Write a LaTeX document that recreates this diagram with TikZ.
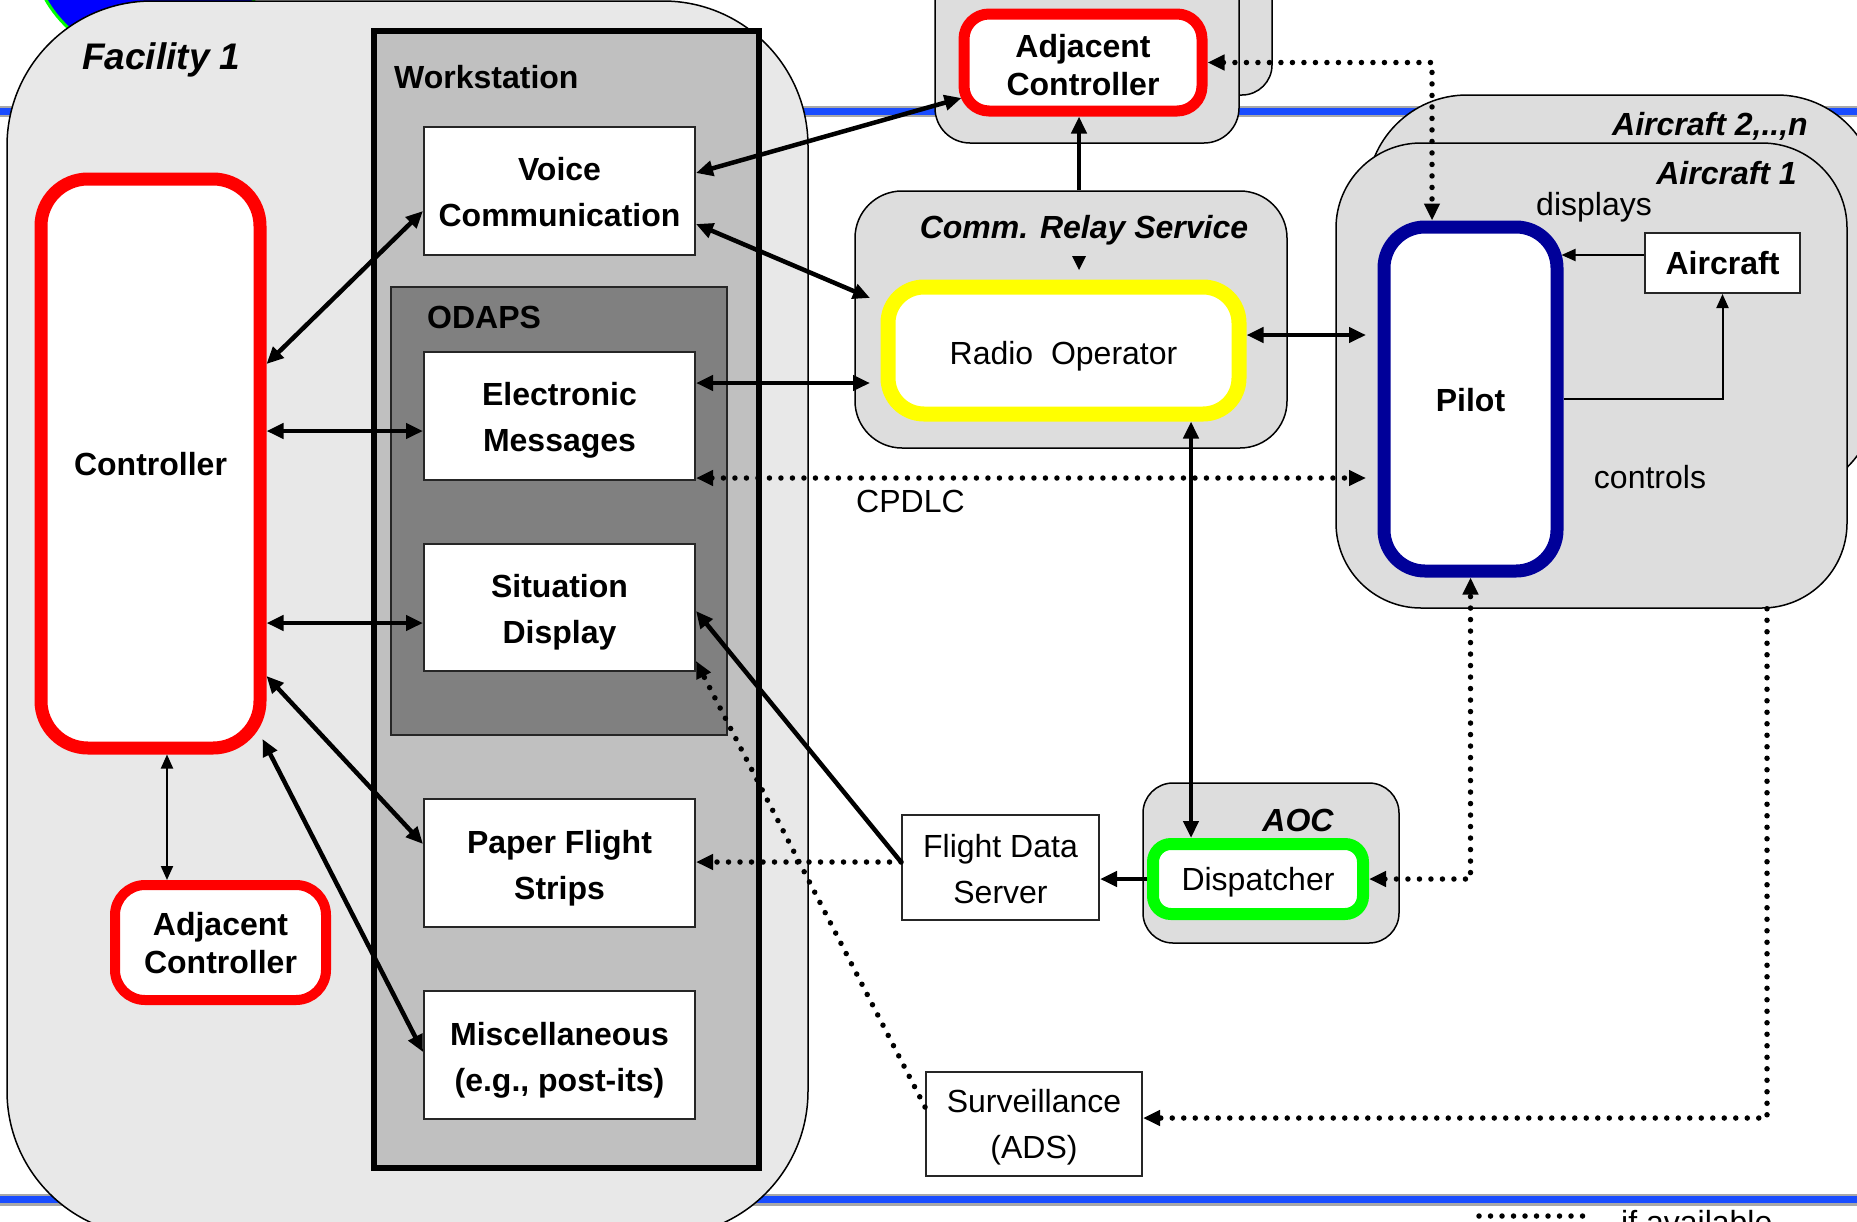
\documentclass[tikz,border=0pt]{standalone}
\usepackage{fontspec}
\setmainfont{Liberation Sans}
\usetikzlibrary{arrows.meta}
\definecolor{facfill}{gray}{0.91}
\definecolor{grpfill}{gray}{0.865}
\definecolor{wsfill}{gray}{0.753}
\definecolor{odfill}{gray}{0.5}
\definecolor{bandblue}{RGB}{25,76,255}
\definecolor{bandgray}{gray}{0.66}
\definecolor{navyc}{RGB}{0,0,153}
\definecolor{grnc}{RGB}{0,255,0}
\definecolor{ylwc}{RGB}{255,255,0}
\definecolor{redc}{RGB}{255,0,0}
\tikzset{
  lbl/.style={font=\fontsize{32}{46}\selectfont, inner sep=0pt, align=center},
  bl/.style={font=\fontsize{32}{46}\selectfont\bfseries, inner sep=0pt, align=center},
  blt/.style={font=\fontsize{32}{38}\selectfont\bfseries, inner sep=0pt, align=center},
  bi/.style={font=\fontsize{32}{38}\selectfont\bfseries\itshape, inner sep=0pt},
  wbox/.style={draw=black!85, line width=2pt, fill=white, inner sep=0pt},
  grp/.style={draw=black, line width=1.5pt, fill=grpfill, inner sep=0pt},
  actor/.style={fill=white, inner sep=0pt},
  bigtip/.tip={Triangle[length=17pt,width=15pt]},
  smalltip/.tip={Triangle[length=14pt,width=12pt]},
  dbl/.style={line width=4.5pt, bigtip-bigtip},
  sgl/.style={line width=4.5pt, -bigtip},
  thindbl/.style={line width=2pt, smalltip-smalltip},
  thinsgl/.style={line width=2pt, -smalltip},
  dotln/.style={line width=5.5pt, line cap=round, dash pattern=on 0pt off 11.5pt},
  dotdbl/.style={dotln, bigtip-bigtip},
  dotsgl/.style={dotln, -bigtip},
}
\begin{document}
\begin{tikzpicture}[x=1pt,y=-1pt]
\useasboundingbox (0,0) rectangle (1857,1221);
\clip (0,0) rectangle (1857,1221);
\fill[white] (0,0) rectangle (1857,1221);
% template bands
\draw[line width=11pt, bandgray] (0,111.5) -- (1857,111.5);
\draw[line width=7pt, bandblue] (0,111.5) -- (1857,111.5);
\draw[line width=12pt, bandgray] (0,1199.5) -- (1857,1199.5);
\draw[line width=7pt, bandblue] (0,1199.5) -- (1857,1199.5);
% globe
\filldraw[fill=blue, draw=grnc, line width=3pt] (150,-60) circle[radius=120pt];

% ---------------- Facility 1 ----------------
\node[draw=black, line width=1.5pt, fill=facfill, rounded corners=145pt,
      minimum width=801pt, minimum height=1235pt] (fac) at (407.5,618.5) {};
\node[font=\fontsize{37}{42}\selectfont\bfseries\itshape, inner sep=0pt, anchor=west] (facT) at (82,60) {Facility 1};

\node[draw=black, line width=6pt, fill=wsfill, minimum width=385pt, minimum height=1137pt] (ws) at (566.5,599.5) {};
\node[bl, anchor=west] (wsT) at (394,77) {Workstation};
\node[draw=black!85, line width=1.5pt, fill=odfill, minimum width=336pt, minimum height=448pt] (odaps) at (559,511) {};
\node[bl, anchor=west] (odT) at (427,317) {ODAPS};

\node[wbox, minimum width=271pt, minimum height=128pt] (vc) at (559.5,191) {};
\node[bl] (vcT) at ([yshift=-1pt]vc.center) {Voice\\Communication};
\node[wbox, minimum width=271pt, minimum height=128pt] (em) at (559.5,416) {};
\node[bl] (emT) at ([yshift=-4pt]em.center) {Electronic\\Messages};
\node[wbox, minimum width=271pt, minimum height=127pt] (sd) at (559.5,607.5) {};
\node[bl] (sdT) at ([yshift=-5pt]sd.center) {Situation\\Display};
\node[wbox, minimum width=271pt, minimum height=128pt] (pfs) at (559.5,863) {};
\node[bl] (pfsT) at ([yshift=-5pt]pfs.center) {Paper Flight\\Strips};
\node[wbox, minimum width=271pt, minimum height=128pt] (misc) at (559.5,1055) {};
\node[bl] (miscT) at ([yshift=-5pt]misc.center) {Miscellaneous\\(e.g., post-its)};

\node[actor, draw=redc, line width=13pt, rounded corners=47pt, minimum width=219pt, minimum height=569pt] (ctrl) at (150.5,463.5) {};
\node[bl] (ctrlT) at ([yshift=-1pt]ctrl.center) {Controller};
\node[actor, draw=redc, line width=10pt, rounded corners=30pt, minimum width=211pt, minimum height=115pt] (adjL) at (220.5,942.5) {};
\node[blt] (adjLT) at ([yshift=-1pt]adjL.center) {Adjacent\\Controller};

% ---------------- top adjacent controller ----------------
\node[grp, rounded corners=30pt, minimum width=302pt, minimum height=195pt] (adjBack) at (1121,-2.5) {};
\node[grp, rounded corners=35pt, minimum width=304pt, minimum height=203pt] (adjBox) at (1087,41.5) {};
\node[actor, draw=redc, line width=11pt, rounded corners=25pt, minimum width=238pt, minimum height=97pt] (adjT) at (1083,62.5) {};
\node[blt] (adjTT) at ([yshift=-2.5pt]adjT.center) {Adjacent\\Controller};

% ---------------- Comm relay ----------------
\node[grp, rounded corners=47pt, minimum width=432pt, minimum height=257pt] (crs) at (1071,319.5) {};
\node[bi] (crsT) at (1084,230.5) {Comm. Relay Service};
\node[actor, draw=ylwc, line width=15pt, rounded corners=36pt, minimum width=351pt, minimum height=127pt] (ro) at (1063.5,350.5) {};
\node[lbl] (roT) at ([yshift=-6pt]ro.center) {Radio\ \ Operator};
\node[lbl, anchor=west] (cpdlc) at (856,501) {CPDLC};

% ---------------- Aircraft ----------------
\node[grp, rounded corners=100pt, minimum width=510pt, minimum height=401pt] (acBack) at (1622,295.5) {};
\node[bi, anchor=east] (acBT) at (1808,126.5) {Aircraft 2,..,n};
\node[grp, rounded corners=85pt, minimum width=511pt, minimum height=465pt] (ac1) at (1591.5,375.5) {};
\node[bi, anchor=east] (ac1T) at (1797,173) {Aircraft 1};
\node[lbl] (dispL) at (1594,207) {displays};
\node[lbl] (ctlL) at (1650,477) {controls};
\node[actor, draw=navyc, line width=13pt, rounded corners=41pt, minimum width=173pt, minimum height=344pt] (pilot) at (1470.5,399) {};
\node[bl] (pilotT) at ([yshift=-1pt]pilot.center) {Pilot};
\node[wbox, minimum width=155pt, minimum height=60pt] (acft) at (1722.5,263) {};
\node[bl] (acftT) at (acft.center) {Aircraft};

% ---------------- lower middle ----------------
\node[wbox, minimum width=197pt, minimum height=105pt] (fds) at (1000.5,867.5) {};
\node[lbl] (fdsT) at ([yshift=-2pt]fds.center) {Flight Data\\Server};
\node[grp, rounded corners=30pt, minimum width=256pt, minimum height=160pt] (aoc) at (1271,863) {};
\node[bi] (aocT) at (1298,820) {AOC};
\node[actor, draw=grnc, line width=12pt, rounded corners=18pt, minimum width=210pt, minimum height=70pt] (disp) at (1258,879) {};
\node[lbl] (dispT) at ([yshift=-3.5pt]disp.center) {Dispatcher};
\node[wbox, minimum width=216pt, minimum height=104pt] (surv) at (1034,1124) {};
\node[lbl] (survT) at ([yshift=-3.5pt]surv.center) {Surveillance\\(ADS)};

% ---------------- connectors ----------------
\draw[dbl] ([yshift=99.5pt]ctrl.east) -- ([yshift=-20pt]vc.west);
\draw[dbl] ([yshift=32.5pt]ctrl.east) -- ([yshift=-15pt]em.west);
\draw[dbl] ([yshift=-159.5pt]ctrl.east) -- ([yshift=-15.5pt]sd.west);
\draw[dbl] ([yshift=-212.5pt]ctrl.east) -- ([yshift=19pt]pfs.west);
\draw[dbl] ([xshift=-4pt,yshift=-275.5pt]ctrl.east) -- ([yshift=3pt]misc.west);
\draw[thindbl] ([xshift=16.5pt]ctrl.south) -- ([xshift=-53.5pt]adjL.north);
\draw[dbl] ([yshift=18pt]vc.east) -- ([xshift=3pt,yshift=-35.5pt]adjT.west);
\draw[dbl] ([yshift=-33pt]vc.east) -- ([xshift=-10.5pt,yshift=52.5pt]ro.west);
\draw[dbl] ([yshift=33pt]em.east) -- ([xshift=-10.5pt,yshift=-32.5pt]ro.west);
\draw[dotdbl] ([yshift=-62pt]em.east) -- ([xshift=-11.5pt,yshift=-79pt]pilot.west);
\draw[dbl] ([yshift=15.5pt]ro.east) -- ([xshift=-11.5pt,yshift=64pt]pilot.west);
\draw[dbl] ([xshift=127.5pt]ro.south) -- ([xshift=-67pt]disp.north);
\draw[sgl] (disp.west) -- ([yshift=-11.5pt]fds.east);
\draw[sgl] ([yshift=5.5pt]fds.west) -- ([yshift=-3.5pt]sd.east);
\draw[dotsgl] ([yshift=5.5pt]fds.west) -- ([yshift=1pt]pfs.east);
\draw[dotsgl] ([yshift=17pt]surv.west) -- ([yshift=-53.5pt]sd.east);
\draw[dotdbl] (adjT.east) -| ([xshift=-38.5pt]pilot.north);
\draw[dotdbl] (disp.east) -| (pilot.south);
\draw[dotsgl] ([xshift=175.5pt]ac1.south) |- ([yshift=6pt]surv.east);
\draw[thinsgl] ([yshift=8pt]acft.west) -- ([xshift=-2pt,yshift=144pt]pilot.east);
\draw[thinsgl] (pilot.east) -| (acft.south);
\draw[sgl] ([xshift=8pt]crs.north) -- ([xshift=-4pt]adjT.south);
\fill (1072,256) -- (1086,256) -- (1079,270) -- cycle;

% ---------------- legend ----------------
\coordinate (legA) at (1479,1216);
\coordinate (legB) at (1589,1216);
\draw[dotln] (legA) -- (legB);
\node[font=\fontsize{32}{38}\selectfont, anchor=base west, inner sep=0pt] (leg) at (1621,1233) {if available};
\end{tikzpicture}
\end{document}
